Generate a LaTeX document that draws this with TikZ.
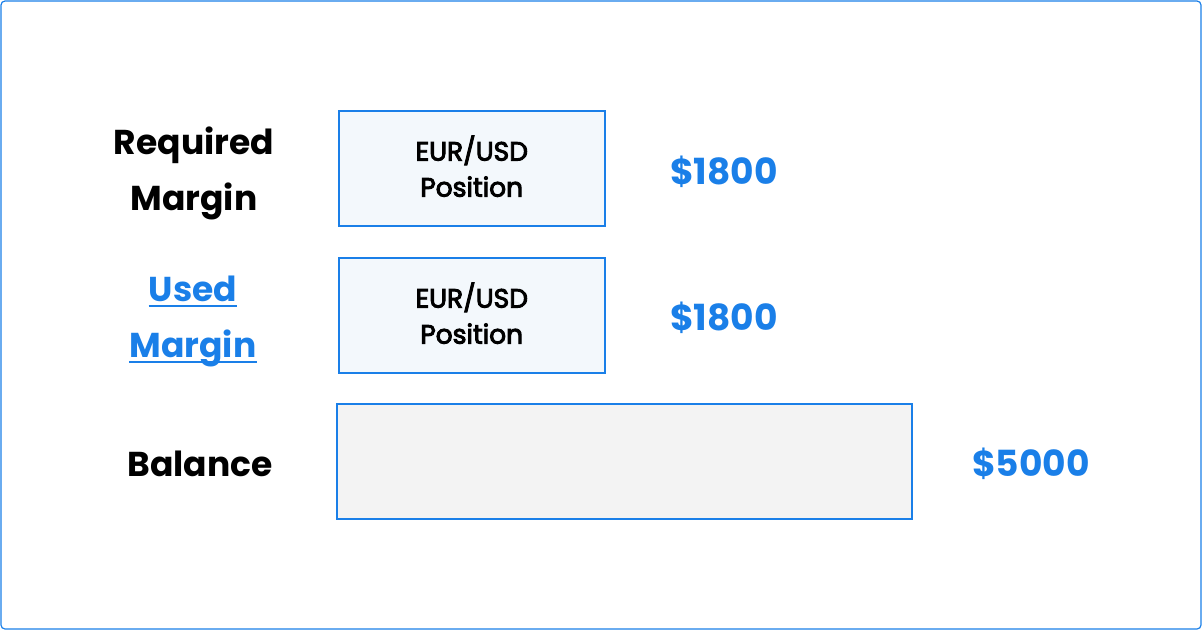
\documentclass[tikz,border=0pt]{standalone}
\usepackage{fontspec}
\setmainfont{Poppins}
\newfontfamily\posfont{Poppins}[FakeBold=3.5]
\definecolor{accent}{HTML}{1A7FE8}
\definecolor{boxfill}{HTML}{F3F8FC}
\definecolor{balfill}{HTML}{F3F3F3}
\begin{document}
\begin{tikzpicture}[x=1pt,y=-1pt,
  bar/.style={draw=accent,line width=1.5pt,inner sep=0pt,anchor=north west},
  lbl/.style={font=\fontsize{34.5}{56}\selectfont\bfseries,align=center,text=black},
  word/.style={font=\fontsize{34.5}{56}\selectfont\bfseries,text=accent,inner sep=0pt,anchor=base},
  amt/.style={font=\fontsize{36}{40}\selectfont\bfseries,text=accent},
  postxt/.style={font=\fontsize{26.5}{36}\selectfont\posfont,align=center,text=black},
  uline/.style={draw=accent,line width=2pt}]
\useasboundingbox (0,0) rectangle (1202,630);
\draw[accent,line width=1.2pt,rounded corners=4pt] (1,1) rectangle (1201,629);
% boxes
\node[bar,fill=boxfill,minimum width=266pt,minimum height=115pt] (req) at (338,110) {};
\node[bar,fill=boxfill,minimum width=266pt,minimum height=115pt] (used) at (338,257) {};
\node[bar,fill=balfill,minimum width=575pt,minimum height=115pt] (bal) at (336,403) {};
\node[postxt] (reqtxt) at ([yshift=2pt]req.center) {EUR/USD\\Position};
\node[postxt] (usedtxt) at ([yshift=2pt]used.center) {EUR/USD\\Position};
% labels
\node[lbl] (reqlbl) at (194,173) {Required\\Margin};
\node[word] (usedw) at (193,301) {Used};
\node[word] (margw) at (193,357) {Margin};
\draw[uline] ([yshift=-5pt]usedw.base west) -- ([yshift=-5pt]usedw.base east);
\draw[uline] ([yshift=-5pt]margw.base west) -- ([yshift=-5pt]margw.base east);
\node[lbl] (ballbl) at (200,464) {Balance};
% amounts
\node[amt] (a1) at (724,172) {\$1800};
\node[amt] (a2) at (724,318) {\$1800};
\node[amt] (a3) at (1031,464) {\$5000};
\end{tikzpicture}
\end{document}
